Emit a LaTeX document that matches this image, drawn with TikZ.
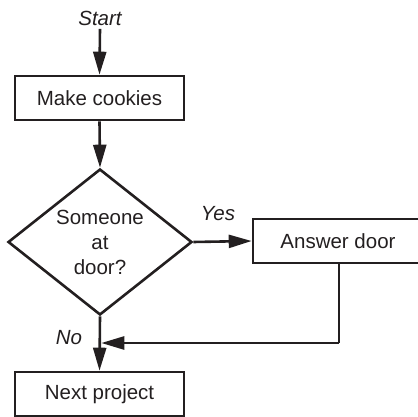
\documentclass[tikz,border=0pt]{standalone}
\usepackage{fontspec}
\setmainfont{Liberation Sans}
\usetikzlibrary{shapes.geometric,arrows.meta}
\definecolor{ink}{HTML}{231F20}
\begin{document}
\begin{tikzpicture}[x=1pt,y=-1pt,
  every node/.style={font=\fontsize{20.5}{24}\selectfont, text=ink},
  box/.style={draw=ink, line width=2.6pt, inner sep=0pt, minimum width=169pt, minimum height=44pt},
  decision/.style={draw=ink, diamond, line width=2.6pt, inner sep=0pt, aspect=1.26,
     minimum width=184pt, minimum height=146pt, align=center,
     font=\fontsize{20.5}{25}\selectfont},
  lbl/.style={font=\fontsize{20.5}{24}\selectfont\itshape},
  flow/.style={draw=ink, line width=2.6pt, -{Triangle[length=23pt,width=13pt]}}]
\useasboundingbox (0,0) rectangle (418,417);
\node[lbl] (start) at (100,18) {Start};
\node[box] (cookies) at (99.5,98) {Make cookies};
\node[decision] (door) at (100,242) {Someone\\at\\door?};
\node[box, minimum width=172pt] (answer) at (339,241) {\hspace*{-2pt}Answer door};
\node[box] (next) at (99.5,394) {Next project};
\node[lbl] (yes) at (218,214) {Yes};
\node[lbl] (no) at (69,338) {No};
\coordinate (corner) at (339,343);
\draw[flow] (start.south) -- (cookies.north);
\draw[flow] (cookies.south) -- (door.north);
\draw[flow] (door.east) -- (answer.west);
\draw[flow] (door.south) -- (next.north);
\draw[draw=ink, line width=2.6pt] (answer.south) -- (corner);
\draw[flow] (corner) -- ([xshift=1.3pt]door.south |- corner);
\end{tikzpicture}
\end{document}
